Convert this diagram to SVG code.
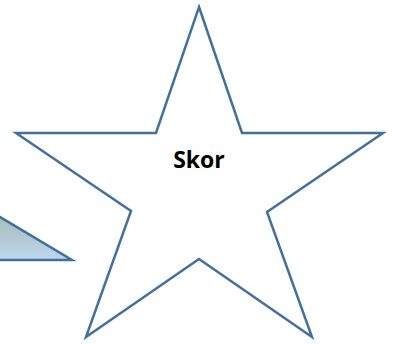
<svg xmlns="http://www.w3.org/2000/svg" width="393" height="344" viewBox="0 0 393 344">
<defs>
<linearGradient id="triFill" x1="0" y1="0" x2="0" y2="1">
<stop offset="0" stop-color="#a3b5ac"/>
<stop offset="1" stop-color="#bdd7ee"/>
</linearGradient>
<style>
.shape{stroke:#41719c;stroke-width:2.5;stroke-linejoin:miter}
.lbl{font-family:"Open Sans","Liberation Sans",sans-serif;font-weight:700;font-size:23px;fill:#000}
</style>
</defs>
<rect width="393" height="344" fill="#fff"/>
<g id="triangle">
<polygon class="shape" fill="url(#triFill)" points="-20,205 72,260 -20,260"/>
</g>
<g id="star">
<polygon class="shape" fill="#fff" points="199,7 242,133 383,133 267,212 312,337 199,259 86,337 131,211 16,133 156,133"/>
<text class="lbl" x="199" y="168" text-anchor="middle">Skor</text>
</g>
<g id="connectors"/>
</svg>
